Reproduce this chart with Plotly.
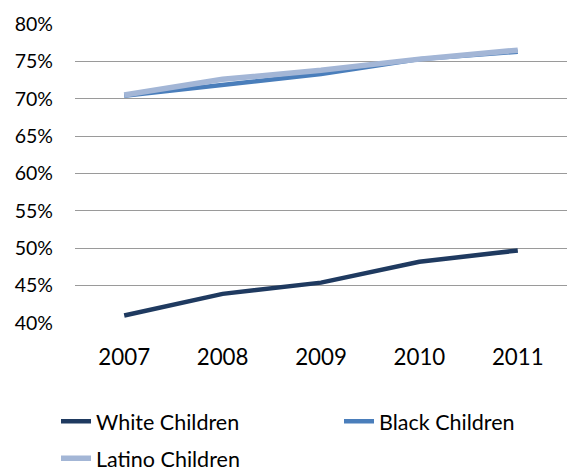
import plotly.graph_objects as go

years = ["2007", "2008", "2009", "2010", "2011"]
white = [41.0, 43.9, 45.4, 48.2, 49.7]
black = [70.4, 71.8, 73.3, 75.3, 76.3]
latino = [70.5, 72.6, 73.8, 75.3, 76.5]
y_ticks = [40, 45, 50, 55, 60, 65, 70, 75, 80]
y_tick_text = [f"{v}%" for v in y_ticks]

FONT = "Lato"
LEG_FONT = dict(family=FONT, size=21.5, color="#000000")

fig = go.Figure()
fig.add_trace(go.Scatter(x=years, y=white, mode="lines", name="White Children",
                         legend="legend",
                         line=dict(color="#1F3A60", width=4.5)))
fig.add_trace(go.Scatter(x=years, y=black, mode="lines", name="Black Children",
                         legend="legend2",
                         line=dict(color="#4A7EBB", width=4.5)))
fig.add_trace(go.Scatter(x=years, y=latino, mode="lines", name="Latino Children",
                         legend="legend3",
                         line=dict(color="#A3B6D6", width=5.5)))

leg_common = dict(orientation="v", xanchor="left", yanchor="middle",
                  font=LEG_FONT, itemwidth=30, bgcolor="rgba(0,0,0,0)",
                  borderwidth=0)

fig.update_layout(
    width=567, height=472,
    margin=dict(l=75, r=0, t=24, b=148.5, pad=0, autoexpand=False),
    paper_bgcolor="white", plot_bgcolor="white",
    font=dict(family=FONT, size=19, color="#000000"),
    xaxis=dict(type="category", range=[-0.5, 4.5], showgrid=False,
               showline=False, zeroline=False, ticks="",
               ticklabelstandoff=19, tickfont=dict(size=22.3)),
    yaxis=dict(range=[40, 80], tickvals=y_ticks, ticktext=y_tick_text,
               showgrid=True, gridcolor="#9A9A9A", gridwidth=1.3,
               zeroline=False, showline=False, ticks="",
               ticklabelstandoff=21, tickfont=dict(size=19.5)),
    legend=dict(x=-0.0386, y=-0.3289, **leg_common),
    legend2=dict(x=0.5366, y=-0.3289, **leg_common),
    legend3=dict(x=-0.0386, y=-0.4524, **leg_common),
    showlegend=True,
)

fig.write_html("out.html")
